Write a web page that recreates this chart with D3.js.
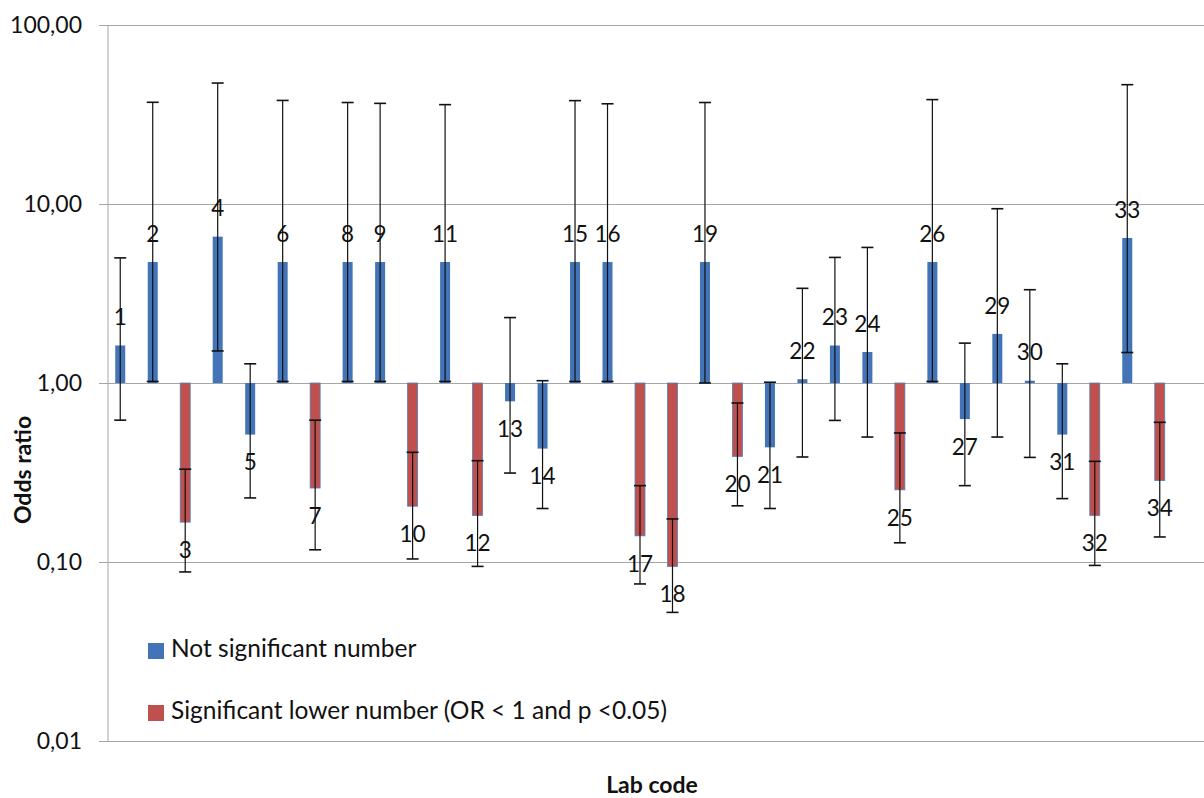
<!DOCTYPE html>
<html>
<head>
<meta charset="utf-8">
<script src="https://cdn.jsdelivr.net/npm/d3@7"></script>
<style>
  body { margin: 0; background: #fff; }
  text { font-family: Lato, "Open Sans", sans-serif; fill: #111; }
</style>
</head>
<body>
<svg width="1204" height="798"></svg>
<script>
// lab codes (28 is not in the chart)
const labs = ["1","2","3","4","5","6","7","8","9","10","11","12","13","14","15","16","17",
  "18","19","20","21","22","23","24","25","26","27","29","30","31","32","33","34"];
const oddsRatio = [1.62, 4.74, 0.167, 6.57, 0.515, 4.74, 0.259, 4.74, 4.74, 0.205, 4.74, 0.182,
  0.79, 0.43, 4.74, 4.74, 0.14, 0.0945, 4.74, 0.389, 0.437, 1.05, 1.62, 1.49, 0.253, 4.74,
  0.629, 1.88, 1.03, 0.515, 0.182, 6.46, 0.285];
const ciLower = [0.62, 1.02, 0.088, 1.51, 0.228, 1.02, 0.117, 1.02, 1.02, 0.104, 1.02, 0.0945,
  0.314, 0.199, 1.02, 1.02, 0.0754, 0.0523, 1.0, 0.206, 0.199, 0.386, 0.618, 0.499, 0.128, 1.02,
  0.267, 0.499, 0.384, 0.226, 0.0957, 1.48, 0.138];
const ciUpper = [5.0, 37.0, 0.33, 47.4, 1.28, 37.9, 0.62, 36.9, 36.5, 0.41, 35.9, 0.368,
  2.32, 1.03, 37.8, 36.3, 0.267, 0.174, 36.9, 0.773, 1.01, 3.38, 5.03, 5.72, 0.526, 38.3,
  1.67, 9.41, 3.32, 1.28, 0.365, 46.4, 0.603];
// 1 = significant lower number (red), 0 = not significant (blue)
const significant = [0,0,1,0,0,0,1,0,0,1,0,1,0,0,0,0,1,1,0,1,0,0,0,0,1,0,0,0,0,0,1,0,1];
const yTicks = [100, 10, 1, 0.1, 0.01];
const legendLabels = ["Not significant number", "Significant lower number (OR < 1 and p <0.05)"];
const colors = ["#4474B8", "#C0504D"];

const svg = d3.select("svg");
const left = 108, right = 1204;

const data = labs.map((lab, i) => ({
  lab: lab,
  or: oddsRatio[i],
  lo: ciLower[i],
  hi: ciUpper[i],
  sig: significant[i]
}));

const x = d3.scaleBand()
  .domain(labs)
  .range([104, 1176]);

const y = d3.scaleLog()
  .domain([0.01, 100])
  .range([741, 25]);

const fmt = d3.formatLocale({ decimal: ",", thousands: ".", grouping: [3], currency: ["", ""] }).format(".2f");

// gridlines
svg.append("g")
  .attr("transform", `translate(${left},0)`)
  .call(d3.axisLeft(y).tickValues(yTicks).tickSize(-(right - left)).tickFormat(""))
  .call(g => g.select(".domain").remove())
  .call(g => g.selectAll("line").attr("stroke", "#A6A6A6"));

// y axis
svg.append("g")
  .attr("transform", `translate(${left},0)`)
  .call(d3.axisLeft(y).tickValues(yTicks).tickFormat(fmt).tickSize(9).tickPadding(17))
  .call(g => g.select(".domain").attr("stroke", "#A6A6A6").attr("d", `M0,${y(100)}V${y(0.01)}`))
  .call(g => g.selectAll("line").attr("stroke", "#A6A6A6"))
  .call(g => g.selectAll("text").attr("font-size", 23).attr("fill", "#222"));

// bars
svg.append("g").selectAll("rect")
  .data(data)
  .join("rect")
  .attr("x", d => x(d.lab) + x.bandwidth() / 2 - 5)
  .attr("width", 10)
  .attr("y", d => y(Math.max(d.or, 1)))
  .attr("height", d => Math.abs(y(d.or) - y(1)))
  .attr("fill", d => colors[d.sig])
  .attr("stroke", "#4F81BD")
  .attr("stroke-width", d => d.sig ? 0.8 : 0);

// error bars
const err = svg.append("g").attr("stroke", "#111");
err.selectAll(".stem")
  .data(data)
  .join("line")
  .attr("class", "stem")
  .attr("x1", d => x(d.lab) + x.bandwidth() / 2)
  .attr("x2", d => x(d.lab) + x.bandwidth() / 2)
  .attr("y1", d => y(d.lo))
  .attr("y2", d => y(d.hi))
  .attr("stroke-width", 1.2);

err.selectAll(".cap")
  .data(data.flatMap(d => [{ lab: d.lab, v: d.lo }, { lab: d.lab, v: d.hi }]))
  .join("line")
  .attr("class", "cap")
  .attr("x1", d => x(d.lab) + x.bandwidth() / 2 - 6)
  .attr("x2", d => x(d.lab) + x.bandwidth() / 2 + 6)
  .attr("y1", d => y(d.v))
  .attr("y2", d => y(d.v))
  .attr("stroke-width", 1.6);

// lab code labels
svg.append("g").selectAll("text")
  .data(data)
  .join("text")
  .attr("x", d => x(d.lab) + x.bandwidth() / 2)
  .attr("y", d => d.or >= 1 ? y(d.or) - 26 : y(d.or) + 30)
  .attr("text-anchor", "middle")
  .attr("dominant-baseline", "middle")
  .attr("font-size", 22.5)
  .text(d => d.lab);

// legend
const legend = svg.append("g").selectAll("g")
  .data(legendLabels)
  .join("g")
  .attr("transform", (d, i) => `translate(148,${651 + i * 62})`);
legend.append("rect")
  .attr("y", -8)
  .attr("width", 16)
  .attr("height", 16)
  .attr("fill", (d, i) => colors[i]);
legend.append("text")
  .attr("x", 23)
  .attr("dominant-baseline", "middle")
  .attr("font-size", 24.5)
  .text(d => d);

// axis titles
svg.append("text")
  .attr("transform", "translate(25,470) rotate(-90)")
  .attr("text-anchor", "middle")
  .attr("dominant-baseline", "middle")
  .attr("font-size", 23)
  .attr("font-weight", "bold")
  .text("Odds ratio");

svg.append("text")
  .attr("x", 652)
  .attr("y", 787)
  .attr("text-anchor", "middle")
  .attr("dominant-baseline", "middle")
  .attr("font-size", 23)
  .attr("font-weight", "bold")
  .text("Lab code");
</script>
</body>
</html>
